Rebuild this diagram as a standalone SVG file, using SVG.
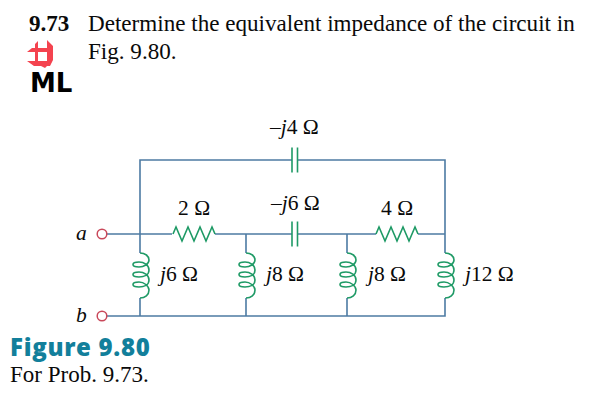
<svg xmlns="http://www.w3.org/2000/svg" width="596" height="405" viewBox="0 0 596 405">
<style>
text{font-family:"Liberation Serif","Times New Roman",serif;fill:#0a0a0a}
.w{fill:none;stroke:#4d7ba3;stroke-width:1.6}
.c{fill:none;stroke:#1f9a66;stroke-width:1.6}
.t{fill:#fff;stroke:#c9485a;stroke-width:1.5}
.l{font-size:21.500px}
.h{font-size:23.100px}
</style>
<defs>
<path id="coil" class="c" d="M0 0C5 0 9 3 9 7C9 11 4 14-1 14C-5 14-7 13-7 11.500C-7 10-4 9-1 9C4 9 9 12 9 17C9 22 4 24-1 24C-5 24-7 23-7 21.500C-7 20-4 19-1 19C4 19 9 22 9 27C9 32 4 34-1 34C-5 34-7 33-7 31.500C-7 30-4 29-1 29C4 29 9 33 9 37C9 42 5 45 0 45"/>
<path id="res" class="c" d="M0 7L3 0L9 14L15 0L21 14L27 0L33 14L39 0L42 7"/>
<path id="cap" class="c" d="M0-12.500V12.500M5.500-12.500V12.500"/>
</defs>
<g id="connectors">
<path class="w" d="M107 234H172M215 234H292M297.500 234H376M418 234H445M140 234V160H292M297.500 160H445V253M140 234V253M140 298V316M246 234V253M246 298V316M347 234V253M347 298V316M445 298V316H107"/>
</g>
<g id="problem">
<text x="29" y="30.500" class="h" font-weight="bold">9.73</text>
<text x="88" y="30.500" class="h">Determine the equivalent impedance of the circuit in</text>
<text x="88" y="59" class="h">Fig. 9.80.</text>
</g>
<g id="logo">
<path fill="#f4434f" fill-rule="evenodd" d="M35 44L38 41V48H47V40L53 46V60L50 66H47L45 68L41 66H34L27 61H35V52H27L32 48H35ZM38 52V61H47V52Z"/>
<text x="30" y="92" font-size="26" font-weight="bold" style="font-family:'DejaVu Sans',sans-serif;fill:#000">ML</text>
</g>
<g id="terminal-a"><circle class="t" cx="102" cy="234" r="4.800"/><text x="76" y="240" class="l" font-style="italic">a</text></g>
<g id="terminal-b"><circle class="t" cx="102" cy="316" r="4.800"/><text x="76" y="322" class="l" font-style="italic">b</text></g>
<g id="C1"><use href="#cap" x="292" y="160"/><text x="270" y="134" class="l">–<tspan font-style="italic">j</tspan>4 Ω</text></g>
<g id="C2"><use href="#cap" x="292" y="234"/><text x="271" y="210" class="l">–<tspan font-style="italic">j</tspan>6 Ω</text></g>
<g id="R1"><use href="#res" x="173" y="227"/><text x="178" y="215" class="l">2 Ω</text></g>
<g id="R2"><use href="#res" x="376" y="227"/><text x="381" y="215" class="l">4 Ω</text></g>
<g id="L1"><use href="#coil" x="140" y="253"/><text x="160" y="281" class="l"><tspan font-style="italic">j</tspan>6 Ω</text></g>
<g id="L2"><use href="#coil" x="246" y="253"/><text x="266" y="281" class="l"><tspan font-style="italic">j</tspan>8 Ω</text></g>
<g id="L3"><use href="#coil" x="347" y="253"/><text x="368" y="281" class="l"><tspan font-style="italic">j</tspan>8 Ω</text></g>
<g id="L4"><use href="#coil" x="445" y="253"/><text x="465" y="281" class="l"><tspan font-style="italic">j</tspan>12 Ω</text></g>
<g id="caption">
<text x="10" y="356" font-size="24" font-weight="800" letter-spacing="0.700" style="font-family:'Open Sans',sans-serif;fill:#127f9b">Figure 9.80</text>
<text x="10" y="382" font-size="23">For Prob. 9.73.</text>
</g>
</svg>
